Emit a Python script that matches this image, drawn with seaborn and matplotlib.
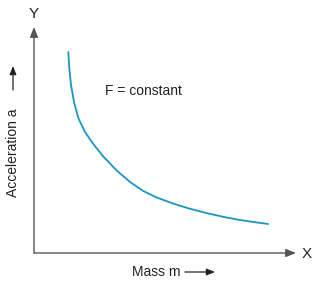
import matplotlib
matplotlib.use("Agg")
import matplotlib.pyplot as plt
import seaborn as sns
import pandas as pd

# Data (mass and acceleration in arbitrary units)
mass = [34.3, 35.3, 37.0, 40.0, 44.3, 51.0, 59.3, 69.3, 82.7, 96.0, 109.3,
        122.7, 139.0, 155.0, 173.0, 190.0, 206.0, 220.0, 234.0]
accel = [201, 185, 168, 151, 135, 121, 109, 96.5, 82.5, 71, 62,
         55.5, 49.5, 44.5, 39.8, 36, 33, 30.9, 29]

x_label = "Mass m"
y_label = "Acceleration a"
note = "F = constant"

sns.set_theme(style="white")
plt.rcParams['font.family'] = ['Liberation Sans', 'DejaVu Sans']

W, H = 335, 286
fig = plt.figure(figsize=(W / 100, H / 100), dpi=100)
ox, oy = 34, 253
ax = fig.add_axes([ox / W, (H - oy) / H, (296 - ox) / W, (oy - 27) / H])

df = pd.DataFrame({"m": mass, "a": accel})
sns.lineplot(data=df, x="m", y="a", ax=ax, color="#1b95c2", linewidth=1.3, sort=False)

ax.set_xlim(0, 296 - ox)
ax.set_ylim(0, oy - 27)
for s in ax.spines.values():
    s.set_visible(False)
ax.set_xticks([])
ax.set_yticks([])
ax.set_xlabel("")
ax.set_ylabel("")
ax.patch.set_alpha(0)

axis_col = "#555555"
arrow = dict(arrowstyle="-|>,head_length=0.5,head_width=0.2", color=axis_col, lw=1.0, shrinkA=0, shrinkB=0)
ax.annotate("", xy=(1, 0), xytext=(0, 0), xycoords="axes fraction", arrowprops=arrow)
ax.annotate("", xy=(0, 1), xytext=(0, 0), xycoords="axes fraction", arrowprops=arrow)

def fx(px):
    return px / W

def fy(py):
    return 1 - py / H

txtcol = "#222222"
fig.text(fx(307), fy(254), "X", ha="center", va="center", fontsize=11, color=txtcol)
fig.text(fx(34), fy(14), "Y", ha="center", va="center", fontsize=11, color=txtcol)
fig.text(fx(143), fy(91), note, ha="center", va="center", fontsize=10, color=txtcol)
fig.text(fx(156), fy(272), x_label, ha="center", va="center", fontsize=10, color=txtcol)
fig.text(fx(13), fy(153), y_label, ha="center", va="center", fontsize=10, rotation=90, color=txtcol)

small = dict(arrowstyle="-|>,head_length=0.5,head_width=0.2", color=txtcol, lw=0.9,
             shrinkA=0, shrinkB=0, mutation_scale=10)
fig.add_artist(matplotlib.patches.FancyArrowPatch((fx(185), fy(272)), (fx(215), fy(272)),
                                                   transform=fig.transFigure, **small))
fig.add_artist(matplotlib.patches.FancyArrowPatch((fx(13), fy(90)), (fx(13), fy(66)),
                                                   transform=fig.transFigure, **small))

fig.savefig("out.png", dpi=100)
